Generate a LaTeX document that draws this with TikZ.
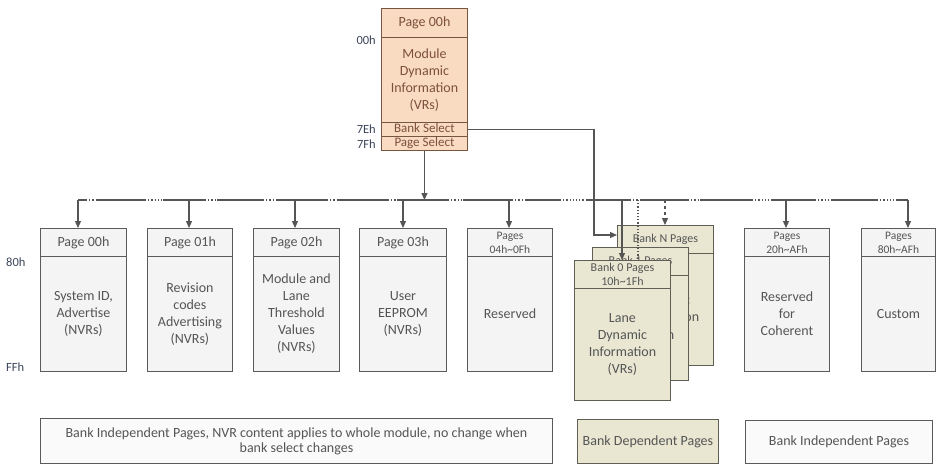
\documentclass[tikz,border=0pt]{standalone}
\usepackage{fontspec}
\setmainfont{Carlito}
\usetikzlibrary{arrows.meta}
\definecolor{peach}{RGB}{249,219,193}
\definecolor{peachdraw}{RGB}{120,85,65}
\definecolor{peachtxt}{RGB}{125,80,60}
\definecolor{pagefill}{RGB}{244,244,244}
\definecolor{legfill}{RGB}{250,250,250}
\definecolor{boxdraw}{RGB}{90,90,90}
\definecolor{txt}{RGB}{85,85,85}
\definecolor{khaki}{RGB}{233,231,210}
\definecolor{khakidraw}{RGB}{95,95,85}
\definecolor{linec}{RGB}{85,85,85}
\definecolor{lblc}{RGB}{60,70,90}
\begin{document}
\begin{tikzpicture}[x=1pt,y=-1pt,
  box/.style={draw=boxdraw, fill=pagefill, line width=0.9pt, inner sep=0pt, anchor=north west,
    align=center, text=txt, font=\fontsize{14}{17}\selectfont},
  hdrsmall/.style={box, font=\fontsize{11.5}{14}\selectfont},
  topb/.style={box, draw=peachdraw, fill=peach, text=peachtxt},
  rowb/.style={topb, font=\fontsize{13}{14}\selectfont, text height=9pt, text depth=2.5pt},
  bank/.style={box, draw=khakidraw, fill=khaki},
  banksmall/.style={bank, font=\fontsize{12}{14}\selectfont},
  legend/.style={box, fill=legfill, font=\fontsize{14}{15}\selectfont},
  arr/.style={draw=linec, line width=1.2pt, -{Triangle[length=7pt,width=6pt]}},
  busline/.style={draw=linec, line width=1.2pt},
  lbl/.style={text=lblc, font=\fontsize{12.5}{14}\selectfont, inner sep=0pt}]
\useasboundingbox (0,0) rectangle (937,464);
\fill[white] (0,0) rectangle (937,464);

% top box
\node[topb, minimum width=86pt, minimum height=29pt] (t0h) at (381,8) {Page 00h};
\node[topb, minimum width=86pt, minimum height=85pt] (t0b) at (381,37) {Module\\Dynamic\\Information\\(VRs)};
\node[rowb, minimum width=86pt, minimum height=14pt] (bsel) at (381,122) {Bank Select};
\node[rowb, minimum width=86pt, minimum height=14pt] (psel) at (381,136) {Page Select};

\node[lbl, anchor=east] (l00) at (376,40) {00h};
\node[lbl, anchor=east] (l7e) at (376,129) {7Eh};
\node[lbl, anchor=east] (l7f) at (376,144) {7Fh};
\node[lbl, anchor=west] (l80) at (6,262) {80h};
\node[lbl, anchor=west] (lff) at (6,367) {FFh};

% page boxes
\node[box, minimum width=86pt, minimum height=28pt] (p0h) at (40,228) {Page 00h};
\node[box, minimum width=86pt, minimum height=115pt] (p0b) at (40,256) {System ID,\\Advertise\\(NVRs)};
\node[box, minimum width=85pt, minimum height=28pt] (p1h) at (147,228) {Page 01h};
\node[box, minimum width=85pt, minimum height=115pt] (p1b) at (147,256) {Revision\\codes\\Advertising\\(NVRs)};
\node[box, minimum width=86pt, minimum height=28pt] (p2h) at (253,228) {Page 02h};
\node[box, minimum width=86pt, minimum height=115pt] (p2b) at (253,256) {Module and\\Lane\\Threshold\\Values\\(NVRs)};
\node[box, minimum width=87pt, minimum height=28pt] (p3h) at (359,228) {Page 03h};
\node[box, minimum width=87pt, minimum height=115pt] (p3b) at (359,256) {User\\EEPROM\\(NVRs)};
\node[hdrsmall, minimum width=85pt, minimum height=28pt] (p4h) at (467,228) {Pages\\04h\textasciitilde 0Fh};
\node[box, minimum width=85pt, minimum height=115pt] (p4b) at (467,256) {Reserved};
\node[hdrsmall, minimum width=85pt, minimum height=28pt] (p5h) at (744,228) {Pages\\20h\textasciitilde AFh};
\node[box, minimum width=85pt, minimum height=115pt] (p5b) at (744,256) {Reserved\\for\\Coherent};
\node[hdrsmall, minimum width=74pt, minimum height=28pt] (p6h) at (861,228) {Pages\\80h\textasciitilde AFh};
\node[box, minimum width=74pt, minimum height=115pt] (p6b) at (861,256) {Custom};

% bank stack
\node[banksmall, minimum width=96pt, minimum height=28pt] (bNh) at (617,225) {Bank N Pages};
\node[bank, minimum width=96pt, minimum height=112pt] (bNb) at (617,253) {Lane\\Dynamic\\Information\\(VRs)};
\node[banksmall, minimum width=96pt, minimum height=28pt] (b1h) at (592,247) {Bank 1 Pages};
\node[bank, minimum width=96pt, minimum height=105pt] (b1b) at (592,275) {Lane\\Dynamic\\Information\\(VRs)};
\node[banksmall, minimum width=96pt, minimum height=28pt] (b0h) at (574,260) {Bank 0 Pages\\10h\textasciitilde 1Fh};
\node[bank, minimum width=96pt, minimum height=112pt] (b0b) at (574,288) {Lane\\Dynamic\\Information\\(VRs)};

% bus
\coordinate (busL) at (78,200);
\coordinate (busR) at (908,200);
\draw[busline] (busL) -- (busR);
\foreach \a/\b in {86/97,145/163,205/217,263/277,327/338,388/397,448/463,512/525,560/587,630/640,688/700,752/772,815/832,877/897}{
  \draw[white, line width=1.6pt] (\a,200) -- (\b,200);
  \draw[linec, line width=1.2pt, dotted] (\a,200) -- (\b,200);
}
\coordinate (d0) at (78,200);
\coordinate (d1) at (189,200);
\coordinate (d2) at (295,200);
\coordinate (d3) at (403,200);
\coordinate (d4) at (509,200);
\coordinate (d5) at (786,200);
\coordinate (d6) at (908,200);
\draw[arr] (d0) -- (d0 |- p0h.north);
\draw[arr] (d1) -- (d1 |- p1h.north);
\draw[arr] (d2) -- (d2 |- p2h.north);
\draw[arr] (d3) -- (d3 |- p3h.north);
\draw[arr] (d4) -- (d4 |- p4h.north);
\draw[arr] (d5) -- (d5 |- p5h.north);
\draw[arr] (d6) -- (d6 |- p6h.north);

% main arrow
\draw[arr] (psel.south) -- (psel.south |- busL);

% bank select
\coordinate (bsc) at (594,235);
\draw[arr] (bsel.east) -| (bsc) -- (bsc -| bNh.west);

% bank drops
\coordinate (k0) at (622,200);
\coordinate (k1) at (638,200);
\coordinate (k2) at (665,200);
\draw[arr] (k0) -- (k0 |- b0h.north);
\draw[linec, line width=1.2pt, dotted] (k1) -- (k1 |- b0h.north);
\draw[arr, dashed] (k2) -- (k2 |- bNh.north);

% legend
\node[legend, minimum width=512pt, minimum height=45pt] (lgA) at (40,418) {Bank Independent Pages, NVR content applies to whole module, no change when\\bank select changes};
\node[legend, fill=khaki, draw=khakidraw, minimum width=141pt, minimum height=44pt] (lgB) at (577,419) {Bank Dependent Pages};
\node[legend, minimum width=187pt, minimum height=43pt] (lgC) at (745,420) {Bank Independent Pages};
\end{tikzpicture}
\end{document}
